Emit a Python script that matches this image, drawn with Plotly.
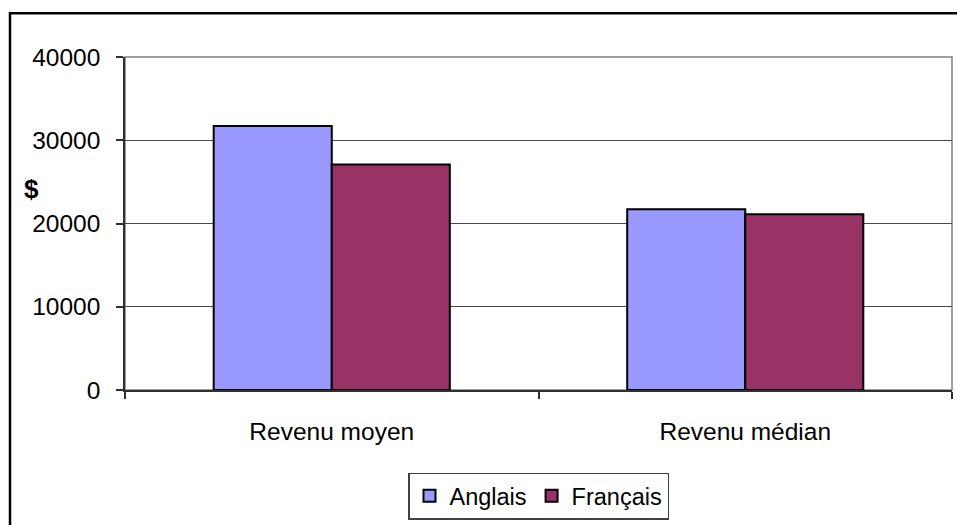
import plotly.graph_objects as go

# Revenue by language group
categories = ["Revenu moyen", "Revenu médian"]
anglais = [31700, 21700]
francais = [27100, 21100]
series_names = ["Anglais", "Français"]
y_ticks = [0, 10000, 20000, 30000, 40000]

FONT = "Liberation Sans, Arial, sans-serif"
FS = 24.5
FS_LEGEND = 23.5

W, H = 957, 525
ML, MR, MT, MB = 125, 5, 57, 133
PW, PH = W - ML - MR, H - MT - MB


def px_to_paper_x(px):
    return (px - ML) / PW


def px_to_paper_y(py):
    return (H - MB - py) / PH


fig = go.Figure()
fig.add_trace(go.Bar(
    x=categories, y=anglais, name=series_names[0],
    marker=dict(color="#9999FF", line=dict(color="#000000", width=2)),
))
fig.add_trace(go.Bar(
    x=categories, y=francais, name=series_names[1],
    marker=dict(color="#993366", line=dict(color="#000000", width=2)),
))

fig.update_layout(
    width=W, height=H,
    margin=dict(l=ML, r=MR, t=MT, b=MB),
    paper_bgcolor="white", plot_bgcolor="white",
    barmode="group", bargap=0.429, bargroupgap=0,
    font=dict(family=FONT, size=FS, color="#000000"),
    showlegend=True,
    legend=dict(
        orientation="h", x=0.5, xanchor="center",
        y=px_to_paper_y(475), yanchor="top",
        bordercolor="#404040", borderwidth=1.5, bgcolor="white",
        font=dict(family=FONT, size=FS_LEGEND), itemwidth=30,
        traceorder="normal",
    ),
    xaxis=dict(
        type="category", showgrid=False, showline=True,
        linecolor="#303030", linewidth=1.5,
        ticks="outside", ticklen=7, tickcolor="#303030", tickwidth=1.5,
        tickson="boundaries", ticklabelstandoff=19,
        tickfont=dict(family=FONT, size=FS),
    ),
    yaxis=dict(
        range=[0, 40000], tickvals=y_ticks, ticktext=[str(v) for v in y_ticks],
        showgrid=True, gridcolor="#4a4a4a", gridwidth=1,
        showline=True, linecolor="#303030", linewidth=1.5,
        ticks="outside", ticklen=7, tickcolor="#303030", tickwidth=1.5,
        ticklabelstandoff=11, zeroline=False,
        tickfont=dict(family=FONT, size=FS),
    ),
    shapes=[
        # plot area frame
        dict(type="rect", xref="paper", yref="paper", x0=0, x1=1, y0=0, y1=1,
             line=dict(color="#808080", width=1.5), layer="below"),
        # chart area frame
        dict(type="rect", xref="paper", yref="paper",
             x0=px_to_paper_x(10), x1=px_to_paper_x(W + 20),
             y0=px_to_paper_y(H + 20), y1=px_to_paper_y(13),
             line=dict(color="#000000", width=2.5), layer="below"),
    ],
    annotations=[
        dict(text="<b>$</b>", xref="paper", yref="paper",
             x=px_to_paper_x(31), y=px_to_paper_y(190),
             xanchor="center", yanchor="middle", showarrow=False,
             font=dict(family=FONT, size=26)),
    ],
)

fig.write_html("out.html")
